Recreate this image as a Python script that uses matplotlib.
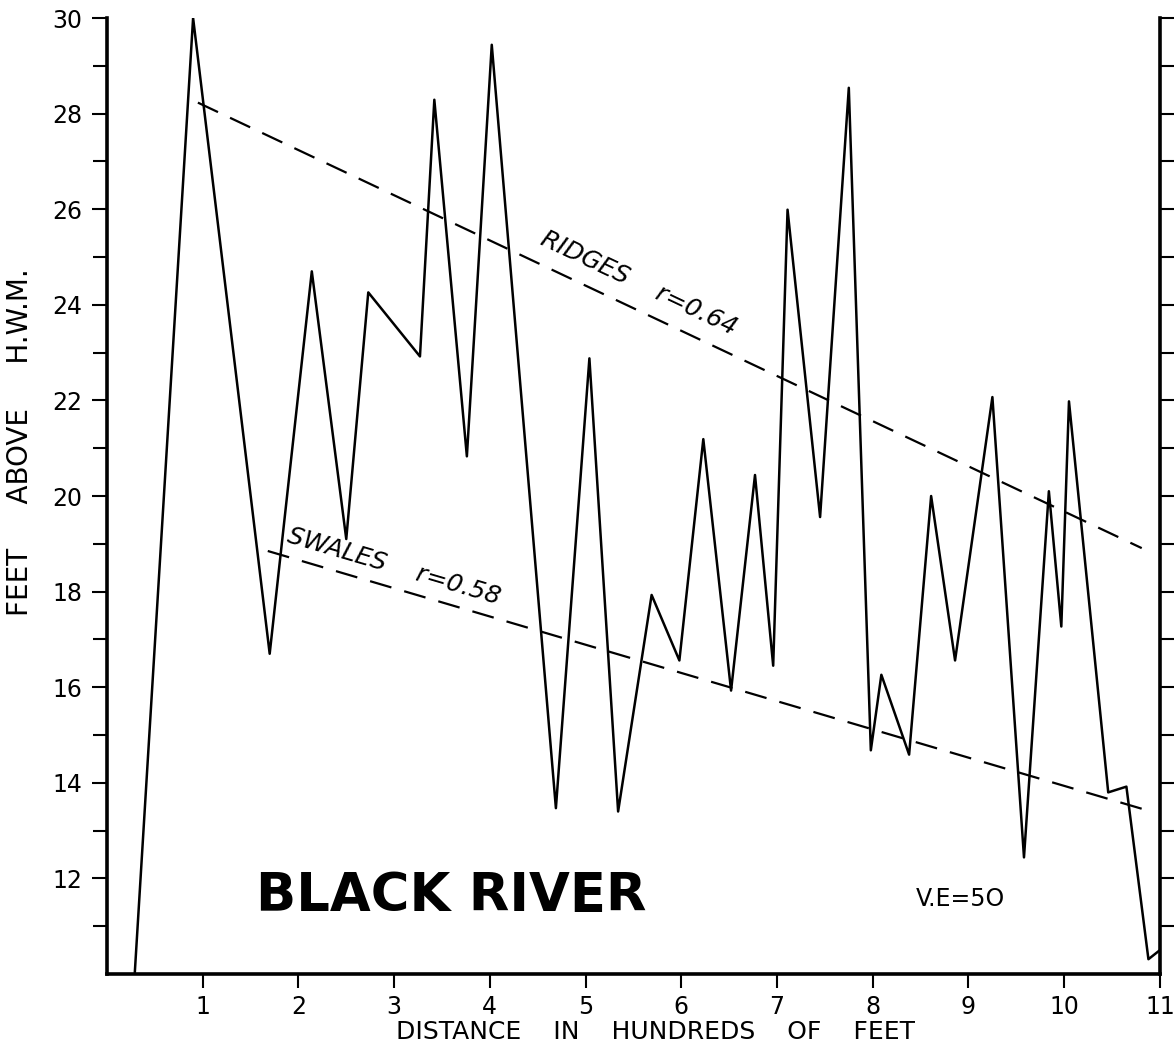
import numpy as np
from matplotlib import pyplot as plt
from matplotlib.ticker import FixedLocator

# profile (distance in hundreds of feet, feet above H.W.M.)
dist = [0.29, 0.90, 1.70, 2.14, 2.50, 2.73, 3.27, 3.42, 3.76, 4.02, 4.69, 5.04,
        5.34, 5.69, 5.98, 6.23, 6.52, 6.77, 6.96, 7.11, 7.45, 7.75, 7.98, 8.09,
        8.38, 8.61, 8.86, 9.25, 9.58, 9.84, 9.97, 10.05, 10.46, 10.65, 10.88, 11.0]
elev = [10.0, 30.0, 16.70, 24.70, 19.10, 24.26, 22.92, 28.29, 20.83, 29.44, 13.47, 22.88,
        13.40, 17.93, 16.56, 21.19, 15.93, 20.44, 16.45, 25.99, 19.56, 28.54, 14.68, 16.26,
        14.59, 20.00, 16.56, 22.07, 12.44, 20.10, 17.27, 21.98, 13.80, 13.92, 10.31, 10.50]

# regression lines
ridge_x = [0.95, 10.81]
ridge_y = [28.23, 18.91]
swale_x = [1.68, 10.84]
swale_y = [18.85, 13.44]

plt.rcParams['font.family'] = ['DejaVu Sans']

fig = plt.figure(figsize=(11.74, 10.47), dpi=100)
ax = fig.add_axes([0.0911, 0.0697, 0.8969, 0.9131])

ax.plot(dist, elev, color='black', lw=1.8)
ax.plot(ridge_x, ridge_y, color='black', lw=1.6, dashes=(10, 6))
ax.plot(swale_x, swale_y, color='black', lw=1.6, dashes=(10, 6))

ax.set_xlim(0, 11)
ax.set_ylim(10, 30)

ax.spines.top.set_visible(False)
for s in ['left', 'bottom', 'right']:
    ax.spines[s].set_linewidth(2.6)

ax.set_xticks(range(1, 12))
ax.set_yticks(range(12, 31, 2))
ax.yaxis.set_minor_locator(FixedLocator(range(11, 30, 2)))
ax.tick_params(axis='both', which='both', direction='out', width=1.5,
               labelsize=17, colors='black')
ax.tick_params(axis='y', which='major', length=11, pad=7)
ax.tick_params(axis='y', which='minor', length=10)
ax.tick_params(axis='x', which='major', length=10, pad=5)
ax.tick_params(axis='y', which='both', right=True)

fig.text(20 / 1174, 1 - 442 / 1047, 'FEET     ABOVE     H.W.M.', fontsize=20,
         rotation=90, ha='center', va='center')
fig.text(655 / 1174, 1 - 1032 / 1047, 'DISTANCE    IN    HUNDREDS    OF    FEET',
         fontsize=18, ha='center', va='center')


def angle(xs, ys):
    p0 = ax.transData.transform((xs[0], ys[0]))
    p1 = ax.transData.transform((xs[1], ys[1]))
    return np.degrees(np.arctan2(p1[1] - p0[1], p1[0] - p0[0]))


ax.text(5.56, 24.45, 'RIDGES    r=0.64', fontsize=18, style='italic',
        rotation=angle(ridge_x, ridge_y), rotation_mode='anchor',
        ha='center', va='center')
ax.text(3.0, 18.52, 'SWALES    r=0.58', fontsize=18, style='italic',
        rotation=angle(swale_x, swale_y), rotation_mode='anchor',
        ha='center', va='center')

ax.text(3.6, 11.63, 'BLACK RIVER', fontsize=38, fontweight='bold',
        ha='center', va='center')
ax.text(8.92, 11.57, 'V.E=5O', fontsize=17, ha='center', va='center')

fig.savefig('out.png', dpi=100)
